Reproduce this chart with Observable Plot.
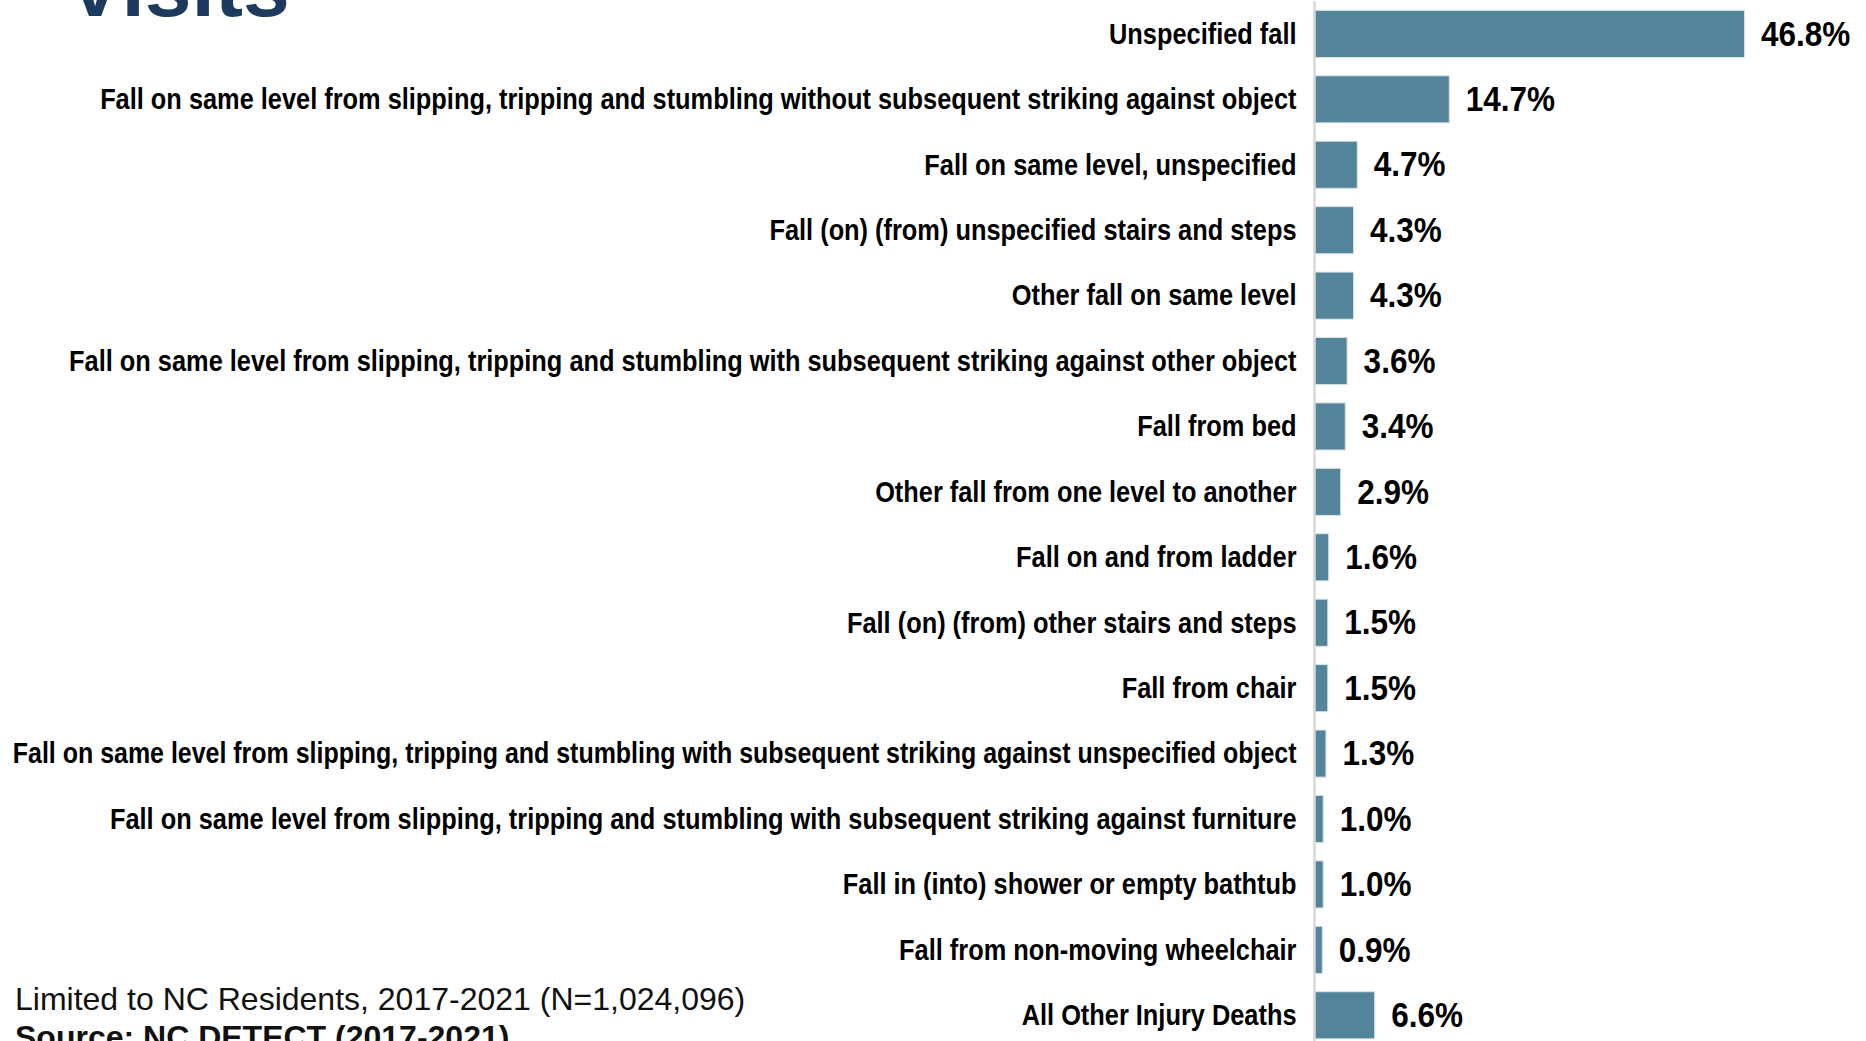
<!DOCTYPE html>
<html>
<head>
<meta charset="utf-8">
<script src="https://cdn.jsdelivr.net/npm/d3@7"></script>
<script src="https://cdn.jsdelivr.net/npm/@observablehq/plot@0.6"></script>
<style>
  html, body { margin: 0; padding: 0; background: #fff; overflow: hidden; }
  #wrap { position: relative; width: 1866px; height: 1041px; overflow: hidden; }
  #chart { position: absolute; left: 0; top: 0; }
  #title { position: absolute; left: 67px; top: -55px; font-family: "Liberation Sans", Arial, sans-serif; font-weight: bold; font-size: 84px; line-height: 84px; color: #1b3a5e; white-space: nowrap; }
  #note { position: absolute; left: 15px; top: 980px; font-family: "Liberation Sans", Arial, sans-serif; font-size: 32px; line-height: 38px; color: #111; white-space: nowrap; }
  #note b { font-weight: bold; }
</style>
</head>
<body>
<div id="wrap">
  <div id="title">Visits</div>
  <div id="chart"></div>
  <div id="note">Limited to NC Residents, 2017-2021 (N=1,024,096)<br><b>Source: NC DETECT (2017-2021)</b></div>
</div>
<script>
const categories = [
  "Unspecified fall",
  "Fall on same level from slipping, tripping and stumbling without subsequent striking against object",
  "Fall on same level, unspecified",
  "Fall (on) (from) unspecified stairs and steps",
  "Other fall on same level",
  "Fall on same level from slipping, tripping and stumbling with subsequent striking against other object",
  "Fall from bed",
  "Other fall from one level to another",
  "Fall on and from ladder",
  "Fall (on) (from) other stairs and steps",
  "Fall from chair",
  "Fall on same level from slipping, tripping and stumbling with subsequent striking against unspecified object",
  "Fall on same level from slipping, tripping and stumbling with subsequent striking against furniture",
  "Fall in (into) shower or empty bathtub",
  "Fall from non-moving wheelchair",
  "All Other Injury Deaths"
];
const percents = [46.8, 14.7, 4.7, 4.3, 4.3, 3.6, 3.4, 2.9, 1.6, 1.5, 1.5, 1.3, 1.0, 1.0, 0.9, 6.6];

const data = categories.map((c, i) => ({category: c, value: percents[i]}));

const marginLeft = 1314, tickPadding = 18, leftGutter = 12;

const chart = Plot.plot({
  width: 1866,
  height: 1048,
  marginTop: 1.2,
  marginBottom: 0,
  marginLeft,
  marginRight: 0,
  style: {fontFamily: "'Liberation Sans', Arial, sans-serif", color: "#000", background: "transparent"},
  x: {domain: [0, 60], axis: null},
  y: {domain: categories, paddingInner: 0.28, paddingOuter: 0.14, round: false, axis: null},
  marks: [
    Plot.barX(data, {x: "value", y: "category", fill: "#548499", stroke: "#d7e4ea", strokeWidth: 1}),
    Plot.ruleX([0], {stroke: "#d9d9d9", strokeWidth: 2.5}),
    Plot.axisY({tickSize: 0, tickPadding, fontSize: 29, fontWeight: "bold", fill: "#000", label: null}),
    Plot.text(data, {x: "value", y: "category", text: d => d.value.toFixed(1) + "%", textAnchor: "start", dx: 16, fontSize: 35, fontWeight: "bold", fill: "#000"})
  ]
});

document.getElementById("chart").appendChild(chart);

// Condense glyphs horizontally around each text's anchor (narrow bold look);
// if a label would still overflow the left edge, condense it just enough to fit.
function condense(sel, k, maxWidth) {
  d3.select(chart).selectAll(sel).each(function() {
    const x = this.getAttribute("x");
    let t = this.getAttribute("transform") || "";
    if (x !== null && isFinite(+x)) {
      t = t + ` translate(${+x},0)`;
      this.removeAttribute("x");
    }
    let s = k;
    if (maxWidth) {
      const w = this.getComputedTextLength();
      if (w * s > maxWidth) s = maxWidth / w;
    }
    this.setAttribute("transform", t + ` scale(${s},1)`);
  });
}
condense("g[aria-label='y-axis tick label'] text", 0.875, marginLeft - tickPadding - leftGutter);
condense("g[aria-label='text'] text", 0.9);
</script>
</body>
</html>
